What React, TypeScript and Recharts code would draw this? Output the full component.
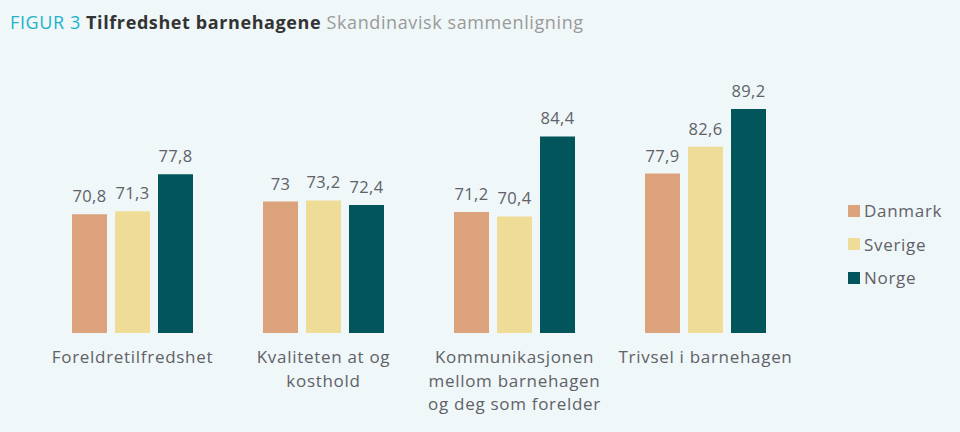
import { BarChart, Bar, XAxis, YAxis, LabelList } from "recharts";

const categories = [
  "Foreldretilfredshet",
  "Kvaliteten at og\nkosthold",
  "Kommunikasjonen\nmellom barnehagen\nog deg som forelder",
  "Trivsel i barnehagen",
];
const danmark = [70.8, 73, 71.2, 77.9];
const sverige = [71.3, 73.2, 70.4, 82.6];
const norge = [77.8, 72.4, 84.4, 89.2];

const SERIES = [
  { key: "danmark", name: "Danmark", color: "#dca27b" },
  { key: "sverige", name: "Sverige", color: "#efdc96" },
  { key: "norge", name: "Norge", color: "#03555c" },
];

const BG = "#eff7f8";
const FONT = "'Open Sans', Lato, sans-serif";
const TEXT = "#616168";

const data = categories.map((c, i) => ({
  cat: c,
  danmark: danmark[i],
  sverige: sverige[i],
  norge: norge[i],
}));

const fmt = (v: any) => String(v).replace(".", ",");

function CatTick({ x, y, payload }: any) {
  const lines = String(payload.value).split("\n");
  return (
    <text x={x} y={y} textAnchor="middle" fill={TEXT} fontSize={17} letterSpacing={0.7} fontFamily={FONT}>
      {lines.map((l, i) => (
        <tspan key={i} x={x} dy={i === 0 ? 22 : 23.5}>{l}</tspan>
      ))}
    </text>
  );
}

function LegendBox() {
  return (
    <div style={{ position: "absolute", left: 848, top: 194, fontFamily: FONT }}>
      {SERIES.map((s) => (
        <div key={s.key} style={{ display: "flex", alignItems: "center", height: 33.5 }}>
          <span style={{ width: 12, height: 12, background: s.color, marginRight: 4, display: "inline-block" }} />
          <span style={{ fontSize: 17, letterSpacing: 0.7, color: TEXT }}>{s.name}</span>
        </div>
      ))}
    </div>
  );
}

export default function App() {
  return (
    <div style={{ position: "absolute", left: 0, top: 0, width: 960, height: 432, background: BG, overflow: "hidden" }}>
      <div style={{ position: "absolute", left: 10, top: 10, fontFamily: FONT, fontSize: 18, letterSpacing: 0.6, whiteSpace: "nowrap" }}>
        <span style={{ color: "#22b3c9" }}>FIGUR 3 </span>
        <span style={{ color: "#333", fontWeight: 700 }}>Tilfredshet barnehagene </span>
        <span style={{ color: "#9a9a9a" }}>Skandinavisk sammenligning</span>
      </div>
      <BarChart
        width={960}
        height={432}
        data={data}
        margin={{ top: 104.5, right: 159, bottom: 0, left: 37 }}
        barSize={35}
        barGap={8}
      >
        <XAxis dataKey="cat" axisLine={false} tickLine={false} height={99} interval={0} tick={<CatTick />} />
        <YAxis hide domain={[50, 90]} width={0} />
        {SERIES.map((s) => (
          <Bar key={s.key} dataKey={s.key} name={s.name} fill={s.color} isAnimationActive={false}>
            <LabelList
              dataKey={s.key}
              position="top"
              offset={12}
              formatter={fmt}
              style={{ fill: TEXT, fontSize: 16.5, letterSpacing: 0.3, fontFamily: FONT }}
            />
          </Bar>
        ))}
      </BarChart>
      <LegendBox />
    </div>
  );
}
